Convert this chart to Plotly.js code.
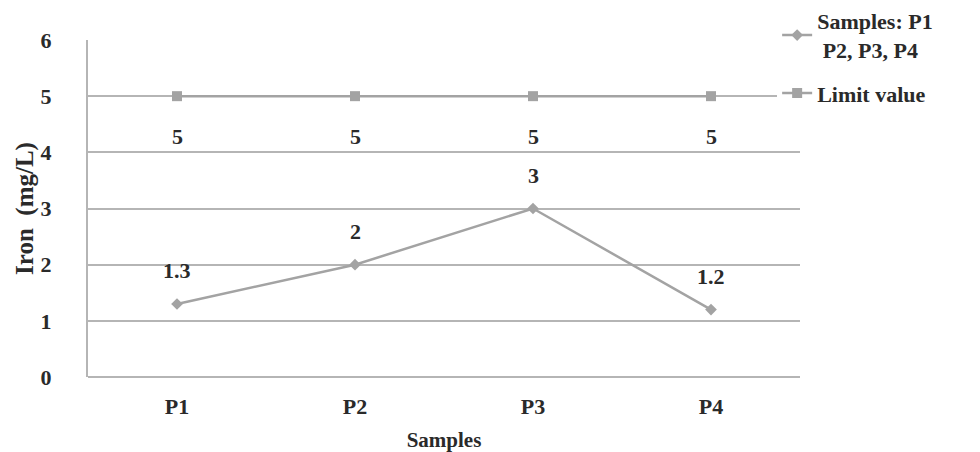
<!DOCTYPE html>
<html>
<head>
<meta charset="utf-8">
<script src="https://cdn.plot.ly/plotly-3.0.1.min.js"></script>
<style>html,body{margin:0;padding:0;background:#fff}#chart{width:980px;height:452px}</style>
</head>
<body>
<div id="chart"></div>
<script>
const categories = ['P1', 'P2', 'P3', 'P4'];
const sampleValues = [1.3, 2, 3, 1.2];
const limitValues = [5, 5, 5, 5];
const yTicks = [0, 1, 2, 3, 4, 5, 6];
const seriesNames = ['Samples: P1<br> P2, P3, P4', 'Limit value'];

const font = '"Times New Roman", "Liberation Serif", serif';
const textColor = '#2a2a2a';
const gray = '#a3a3a3';

const traces = [
  {
    x: categories, y: sampleValues, name: seriesNames[0], type: 'scatter', mode: 'lines+markers',
    legendgroup: 'a',
    line: {color: gray, width: 2.5},
    marker: {symbol: 'diamond', size: 9, color: gray},
    hoverinfo: 'skip'
  },
  {
    x: categories, y: limitValues, name: seriesNames[1], type: 'scatter', mode: 'lines+markers',
    legendgroup: 'b',
    line: {color: gray, width: 2.5},
    marker: {symbol: 'square', size: 10, color: gray},
    hoverinfo: 'skip'
  }
];

const f = (s) => ({family: font, size: s, color: textColor, weight: 'bold'});

const annotations = [];
categories.forEach((c, i) => {
  annotations.push({x: c, y: sampleValues[i], text: String(sampleValues[i]), showarrow: false,
    yshift: 33, font: f(22)});
  annotations.push({x: c, y: limitValues[i], text: String(limitValues[i]), showarrow: false,
    yshift: -40, font: f(22)});
});

const layout = {
  width: 980, height: 452,
  margin: {l: 88, r: 180, t: 40, b: 75, autoexpand: false},
  paper_bgcolor: '#fff', plot_bgcolor: '#fff',
  font: f(22),
  showlegend: true,
  legend: {
    xref: 'container', yref: 'container', x: 0.793, y: 1.0, xanchor: 'left', yanchor: 'top',
    bgcolor: '#fff', font: f(22), tracegroupgap: 12, itemwidth: 30
  },
  xaxis: {
    type: 'category', range: [-0.5, 3.5], showgrid: false, zeroline: false, showline: false,
    ticks: '', tickfont: f(22), ticklabelstandoff: 14,
    title: {text: 'Samples', font: f(21), standoff: 14},
    fixedrange: true
  },
  yaxis: {
    range: [0, 6], tickvals: yTicks, ticktext: yTicks.map(String), showgrid: true, gridcolor: '#b5b5b5', gridwidth: 2,
    zeroline: true, zerolinecolor: '#b5b5b5', zerolinewidth: 2,
    showline: true, linecolor: '#b5b5b5', linewidth: 2, ticks: '', ticklabelstandoff: 30,
    tickfont: f(22),
    title: {text: 'Iron&nbsp;&nbsp;(mg/L)', font: f(25), standoff: 0},
    fixedrange: true
  },
  annotations: annotations
};

Plotly.newPlot('chart', traces, layout, {displayModeBar: false, staticPlot: true});
</script>
</body>
</html>
